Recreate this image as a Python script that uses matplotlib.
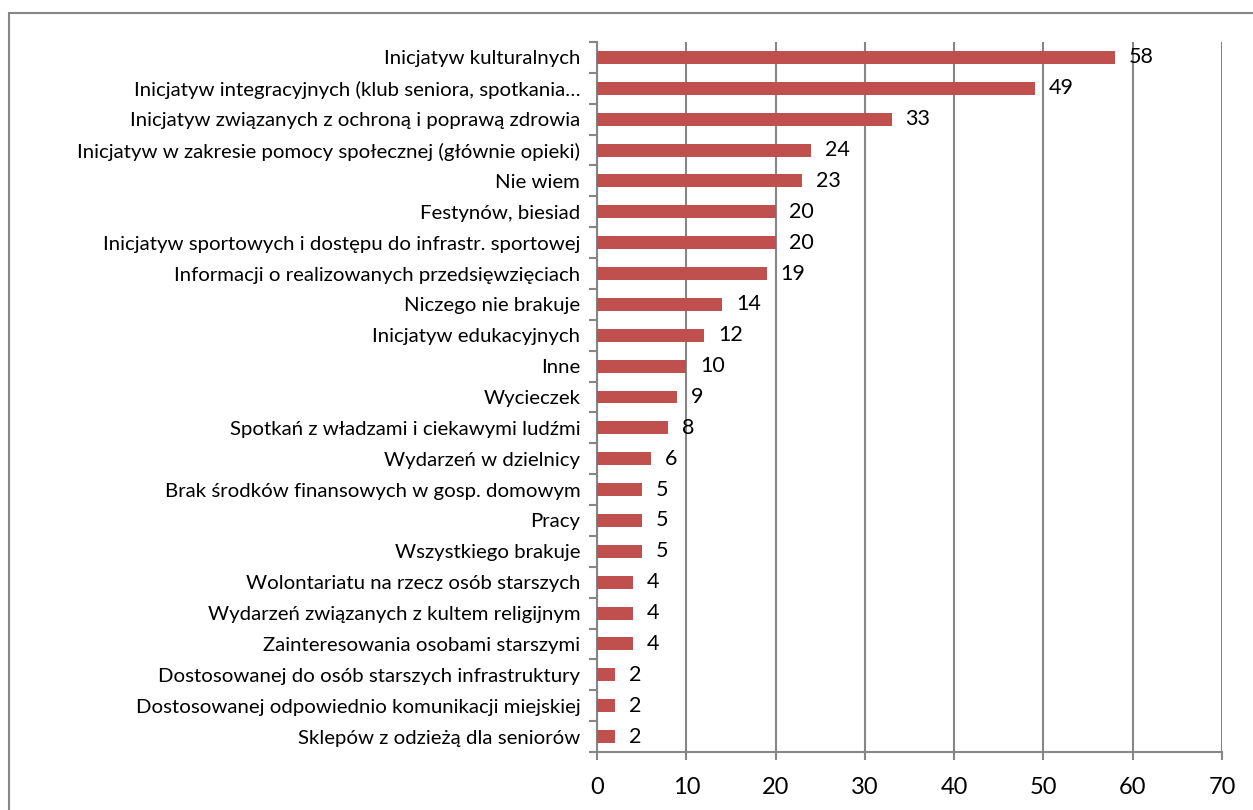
import matplotlib
matplotlib.use("Agg")
import matplotlib.pyplot as plt
from matplotlib.patches import Rectangle

plt.rcParams['font.family'] = ['Lato', 'DejaVu Sans']

categories = [
    "Inicjatyw kulturalnych",
    "Inicjatyw integracyjnych (klub seniora, spotkania…",
    "Inicjatyw związanych z ochroną i poprawą zdrowia",
    "Inicjatyw w zakresie pomocy społecznej (głównie opieki)",
    "Nie wiem",
    "Festynów, biesiad",
    "Inicjatyw sportowych i dostępu do infrastr. sportowej",
    "Informacji o realizowanych przedsięwzięciach",
    "Niczego nie brakuje",
    "Inicjatyw edukacyjnych",
    "Inne",
    "Wycieczek",
    "Spotkań z władzami i ciekawymi ludźmi",
    "Wydarzeń w dzielnicy",
    "Brak środków finansowych w gosp. domowym",
    "Pracy",
    "Wszystkiego brakuje",
    "Wolontariatu na rzecz osób starszych",
    "Wydarzeń związanych z kultem religijnym",
    "Zainteresowania osobami starszymi",
    "Dostosowanej do osób starszych infrastruktury",
    "Dostosowanej odpowiednio komunikacji miejskiej",
    "Sklepów z odzieżą dla seniorów",
]
values = [58, 49, 33, 24, 23, 20, 20, 19, 14, 12, 10, 9, 8, 6, 5, 5, 5, 4, 4, 4, 2, 2, 2]
x_ticks = [0, 10, 20, 30, 40, 50, 60, 70]

bar_color = "#C0504D"
grid_color = "#868686"
W, H = 1253, 810

fig = plt.figure(figsize=(W / 100, H / 100), dpi=100)
ax = fig.add_axes([597 / W, 1 - 752 / H, (1222 - 597) / W, (752 - 42) / H])

n = len(categories)
pos = list(range(n))
ax.barh(pos, values, height=0.42, color=bar_color, zorder=3)
for p, v in zip(pos, values):
    ax.annotate(str(v), (v, p), xytext=(10, 0), textcoords="offset points",
                ha="left", va="center", fontsize=15.5, color="black", zorder=4)

ax.set_xlim(0, 70)
ax.set_ylim(n - 0.5, -0.5)
ax.set_xticks(x_ticks)
ax.set_xticklabels([str(t) for t in x_ticks], fontsize=17)
ax.xaxis.grid(True, color=grid_color, linewidth=1.5, zorder=0)
ax.tick_params(axis="x", length=6, width=1.5, color=grid_color, pad=12)

# category boundaries carry the tick marks, labels sit at category centres
ax.set_yticks([i - 0.5 for i in range(n + 1)])
ax.set_yticklabels([])
ax.tick_params(axis="y", which="major", length=6, width=1.5, color=grid_color)
ax.set_yticks(pos, minor=True)
ax.set_yticklabels(categories, minor=True, fontsize=14.7)
ax.tick_params(axis="y", which="minor", length=0, pad=12)

for side in ("top", "right"):
    ax.spines[side].set_visible(False)
for side in ("left", "bottom"):
    ax.spines[side].set_color(grid_color)
    ax.spines[side].set_linewidth(1.5)

# outer frame of the chart area
fig.patches.append(Rectangle((8.5 / W, -0.1), 1.2, 1 + 0.1 - 12.5 / H,
                             transform=fig.transFigure, fill=False,
                             edgecolor=grid_color, linewidth=1.5))

fig.savefig("out.png", dpi=100, facecolor="white")
